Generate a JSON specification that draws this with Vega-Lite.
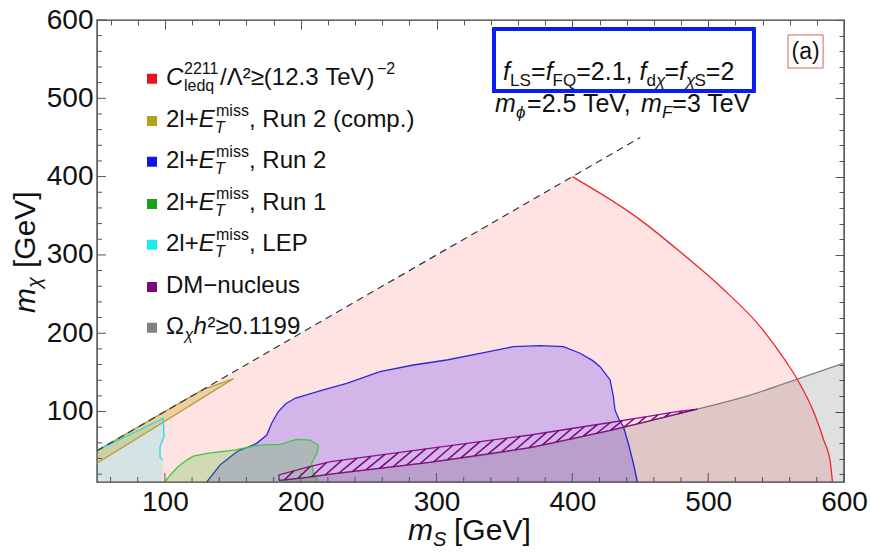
{
  "$schema": "https://vega.github.io/schema/vega-lite/v6.json",
  "width": 747,
  "height": 462,
  "autosize": {"type": "none"},
  "padding": {"left": 97, "top": 20, "right": 26, "bottom": 74},
  "background": "white",
  "config": {
    "font": "Liberation Sans",
    "view": {"stroke": "#3a3a3a", "strokeWidth": 1.4},
    "axis": {"grid": false, "domain": false, "labelFont": "Liberation Sans", "labelFontSize": 28, "labelColor": "#111", "tickColor": "#555", "tickWidth": 1, "labelOverlap": false, "labelFlush": false, "zindex": 1},
    "text": {"font": "Liberation Sans", "color": "#111", "baseline": "alphabetic"}
  },
  "datasets": {
    "shapes": [
      {"g":"C","i":0,"x":50,"y":10},{"g":"C","i":1,"x":50,"y":50},{"g":"C","i":2,"x":400,"y":400},{"g":"C","i":3,"x":449,"y":346},{"g":"C","i":4,"x":480,"y":303},{"g":"C","i":5,"x":510,"y":258},{"g":"C","i":6,"x":540,"y":205},{"g":"C","i":7,"x":558,"y":162},{"g":"C","i":8,"x":566,"y":140},{"g":"C","i":9,"x":578,"y":98},{"g":"C","i":10,"x":585,"y":64},{"g":"C","i":11,"x":590,"y":34},{"g":"C","i":12,"x":591.5,"y":10},
      {"g":"L","i":0,"x":50,"y":10},{"g":"L","i":1,"x":50,"y":50},{"g":"L","i":2,"x":98.8,"y":91.4},{"g":"L","i":3,"x":99.3,"y":68},{"g":"L","i":4,"x":96.4,"y":55},{"g":"L","i":5,"x":96.4,"y":42},{"g":"L","i":6,"x":98.4,"y":38},{"g":"L","i":7,"x":98.5,"y":10},
      {"g":"O","i":0,"x":50,"y":50},{"g":"O","i":1,"x":128,"y":128},{"g":"O","i":2,"x":150.5,"y":142},{"g":"O","i":3,"x":50,"y":34},
      {"g":"G","i":0,"x":100,"y":10},{"g":"G","i":1,"x":104,"y":19},{"g":"G","i":2,"x":110,"y":30},{"g":"G","i":3,"x":116,"y":38},{"g":"G","i":4,"x":121,"y":43},{"g":"G","i":5,"x":131,"y":46.5},{"g":"G","i":6,"x":152,"y":51},{"g":"G","i":7,"x":163,"y":55},{"g":"G","i":8,"x":170,"y":57},{"g":"G","i":9,"x":185,"y":58},{"g":"G","i":10,"x":197,"y":64.5},{"g":"G","i":11,"x":207,"y":63.6},{"g":"G","i":12,"x":213,"y":57},{"g":"G","i":13,"x":212,"y":47},{"g":"G","i":14,"x":208,"y":34},{"g":"G","i":15,"x":209.3,"y":21},{"g":"G","i":16,"x":212,"y":12.6},{"g":"G","i":17,"x":213,"y":10},
      {"g":"B","i":0,"x":130.8,"y":10},{"g":"B","i":1,"x":140.6,"y":31.7},{"g":"B","i":2,"x":152.9,"y":48.7},{"g":"B","i":3,"x":167.6,"y":59.4},{"g":"B","i":4,"x":175,"y":70},{"g":"B","i":5,"x":178.6,"y":85},{"g":"B","i":6,"x":183.5,"y":100},{"g":"B","i":7,"x":189,"y":110},{"g":"B","i":8,"x":195.8,"y":116.9},{"g":"B","i":9,"x":216.6,"y":127.5},{"g":"B","i":10,"x":233.9,"y":136},{"g":"B","i":11,"x":258.4,"y":150.9},{"g":"B","i":12,"x":282.9,"y":159.4},{"g":"B","i":13,"x":307.5,"y":165.8},{"g":"B","i":14,"x":332,"y":174.4},{"g":"B","i":15,"x":356.6,"y":182.8},{"g":"B","i":16,"x":376.2,"y":184.1},{"g":"B","i":17,"x":393.4,"y":182.8},{"g":"B","i":18,"x":405.7,"y":174.4},{"g":"B","i":19,"x":415,"y":165},{"g":"B","i":20,"x":420.4,"y":157.3},{"g":"B","i":21,"x":427.8,"y":140.3},{"g":"B","i":22,"x":430.2,"y":119},{"g":"B","i":23,"x":431.4,"y":102},{"g":"B","i":24,"x":433.9,"y":91.4},{"g":"B","i":25,"x":437.6,"y":80.6},{"g":"B","i":26,"x":441.2,"y":59.4},{"g":"B","i":27,"x":444.9,"y":33.9},{"g":"B","i":28,"x":447.9,"y":10},
      {"g":"W","i":0,"x":184,"y":11},{"g":"W","i":1,"x":205,"y":16},{"g":"W","i":2,"x":222,"y":20},{"g":"W","i":3,"x":295,"y":35},{"g":"W","i":4,"x":369,"y":54},{"g":"W","i":5,"x":428,"y":76},{"g":"W","i":6,"x":457,"y":88.2},{"g":"W","i":7,"x":492,"y":103},{"g":"W","i":8,"x":531,"y":121},{"g":"W","i":9,"x":565,"y":141},{"g":"W","i":10,"x":600,"y":162},{"g":"W","i":11,"x":600,"y":10},{"g":"W","i":12,"x":184,"y":10},
      {"g":"D","i":0,"x":184,"y":12},{"g":"D","i":1,"x":184,"y":19},{"g":"D","i":2,"x":205,"y":29},{"g":"D","i":3,"x":222,"y":36},{"g":"D","i":4,"x":295,"y":53},{"g":"D","i":5,"x":369,"y":70},{"g":"D","i":6,"x":428,"y":86},{"g":"D","i":7,"x":457,"y":94},{"g":"D","i":8,"x":477,"y":100},{"g":"D","i":9,"x":492,"y":103},{"g":"D","i":10,"x":477,"y":96.7},{"g":"D","i":11,"x":457,"y":88.2},{"g":"D","i":12,"x":428,"y":76},{"g":"D","i":13,"x":369,"y":54},{"g":"D","i":14,"x":295,"y":35},{"g":"D","i":15,"x":222,"y":20},{"g":"D","i":16,"x":205,"y":16},{"g":"D","i":17,"x":184,"y":12},
      {"g":"diag","i":0,"x":50,"y":50},{"g":"diag","i":1,"x":450,"y":450}
    ],
    "hatch": [
      {"x":188,"y":12.8,"x2":195,"y2":24.2},{"x":198,"y":14.7,"x2":207,"y2":29.8},{"x":208,"y":16.7,"x2":219,"y2":34.8},{"x":218,"y":19,"x2":230.5,"y2":37.9},{"x":228,"y":21.2,"x2":241.5,"y2":40.4},{"x":238,"y":23.3,"x2":252,"y2":43},{"x":248,"y":25.4,"x2":262,"y2":45.3},{"x":258,"y":27.4,"x2":272,"y2":47.6},{"x":268,"y":29.5,"x2":282,"y2":50},{"x":278,"y":31.5,"x2":292,"y2":52.3},{"x":288,"y":33.6,"x2":302,"y2":54.6},{"x":298,"y":35.8,"x2":312,"y2":56.9},{"x":308,"y":38.3,"x2":322,"y2":59.2},{"x":318,"y":40.9,"x2":332,"y2":61.5},{"x":328,"y":43.5,"x2":342,"y2":63.8},{"x":338,"y":46,"x2":352,"y2":66.1},{"x":348,"y":48.6,"x2":361.5,"y2":68.3},{"x":358,"y":51.2,"x2":371,"y2":70.5},{"x":368,"y":53.7,"x2":381,"y2":73.3},{"x":378,"y":57.4,"x2":390,"y2":75.7},{"x":388,"y":61.1,"x2":399.5,"y2":78.2},{"x":398,"y":64.8,"x2":409,"y2":80.9},{"x":408,"y":68.5,"x2":418.5,"y2":83.3},{"x":418,"y":72.3,"x2":428,"y2":86},{"x":428,"y":76,"x2":437,"y2":88.5},{"x":438,"y":80.2,"x2":445.5,"y2":90.8},{"x":448,"y":84.4,"x2":454,"y2":93.2},{"x":458,"y":88.6,"x2":463,"y2":95.8},{"x":468,"y":92.8,"x2":472,"y2":98.5},{"x":478,"y":97.1,"x2":481,"y2":100.8},{"x":487,"y":100.9,"x2":489,"y2":102.4}
    ],
    "xticks": [{"v":60},{"v":80},{"v":100},{"v":120},{"v":140},{"v":160},{"v":180},{"v":200},{"v":220},{"v":240},{"v":260},{"v":280},{"v":300},{"v":320},{"v":340},{"v":360},{"v":380},{"v":400},{"v":420},{"v":440},{"v":460},{"v":480},{"v":500},{"v":520},{"v":540},{"v":560},{"v":580},{"v":600}],
    "yticks": [{"v":20},{"v":40},{"v":60},{"v":80},{"v":100},{"v":120},{"v":140},{"v":160},{"v":180},{"v":200},{"v":220},{"v":240},{"v":260},{"v":280},{"v":300},{"v":320},{"v":340},{"v":360},{"v":380},{"v":400},{"v":420},{"v":440},{"v":460},{"v":480},{"v":500},{"v":520},{"v":540},{"v":560},{"v":580},{"v":600}],
    "legend": [
      {"k":"C","y":525},{"k":"R2c","y":471,"s":", Run 2 (comp.)"},{"k":"R2","y":419,"s":", Run 2"},{"k":"R1","y":365,"s":", Run 1"},{"k":"LEP","y":313,"s":", LEP"},{"k":"DM","y":259},{"k":"Om","y":207}
    ]
  },
  "layer": [
    {"data": {"name": "shapes"}, "transform": [{"filter": "datum.g === 'C'"}],
     "mark": {"type": "line", "fill": "#ff0000", "fillOpacity": 0.11, "strokeOpacity": 0},
     "encoding": {
       "x": {"field": "x", "type": "quantitative", "scale": {"domain": [50, 600], "nice": false, "zero": false}, "axis": null},
       "y": {"field": "y", "type": "quantitative", "scale": {"domain": [10, 600], "nice": false, "zero": false}, "axis": null},
       "order": {"field": "i", "type": "quantitative"}}},
    {"data": {"values": [{"x": 100, "y": 100}]},
     "mark": {"type": "point", "opacity": 0},
     "encoding": {
       "x": {"field": "x", "type": "quantitative",
             "axis": {"orient": "top", "title": null, "labels": false, "values": [60,80,100,120,140,160,180,200,220,240,260,280,300,320,340,360,380,400,420,440,460,480,500,520,540,560,580,600],
                      "tickSize": {"condition": {"test": "datum.value % 100 === 0", "value": -9}, "value": -5}}},
       "y": {"field": "y", "type": "quantitative",
             "axis": {"orient": "right", "title": null, "labels": false, "values": [20,40,60,80,100,120,140,160,180,200,220,240,260,280,300,320,340,360,380,400,420,440,460,480,500,520,540,560,580,600],
                      "tickSize": {"condition": {"test": "datum.value % 100 === 0", "value": -9}, "value": -5}}}}},
    {"data": {"values": [{"x": 100, "y": 100}]},
     "mark": {"type": "point", "opacity": 0},
     "encoding": {
       "x": {"field": "x", "type": "quantitative",
             "axis": {"orient": "bottom", "title": null, "ticks": false, "tickSize": 0, "labelPadding": 6, "values": [100,200,300,400,500,600]}},
       "y": {"field": "y", "type": "quantitative",
             "axis": {"orient": "left", "title": null, "ticks": false, "tickSize": 0, "labelPadding": 4, "values": [100,200,300,400,500,600]}}}},
    {"data": {"name": "shapes"}, "transform": [{"filter": "datum.g === 'L'"}],
     "mark": {"type": "line", "fill": "#00e8f0", "fillOpacity": 0.16, "strokeOpacity": 0},
     "encoding": {"x": {"field": "x", "type": "quantitative", "axis": null}, "y": {"field": "y", "type": "quantitative", "axis": null}, "order": {"field": "i", "type": "quantitative"}}},
    {"data": {"name": "shapes"}, "transform": [{"filter": "datum.g === 'B'"}],
     "mark": {"type": "line", "fill": "#3a10ff", "fillOpacity": 0.22, "stroke": "#2a2ad8", "strokeWidth": 1.3},
     "encoding": {"x": {"field": "x", "type": "quantitative", "axis": null}, "y": {"field": "y", "type": "quantitative", "axis": null}, "order": {"field": "i", "type": "quantitative"}}},
    {"data": {"name": "shapes"}, "transform": [{"filter": "datum.g === 'G'"}],
     "mark": {"type": "line", "fill": "#40c020", "fillOpacity": 0.24, "stroke": "#3cc83c", "strokeWidth": 1.3},
     "encoding": {"x": {"field": "x", "type": "quantitative", "axis": null}, "y": {"field": "y", "type": "quantitative", "axis": null}, "order": {"field": "i", "type": "quantitative"}}},
    {"data": {"name": "shapes"}, "transform": [{"filter": "datum.g === 'O'"}],
     "mark": {"type": "line", "fill": "#c8a010", "fillOpacity": 0.3, "stroke": "#b0a040", "strokeWidth": 1.3},
     "encoding": {"x": {"field": "x", "type": "quantitative", "axis": null}, "y": {"field": "y", "type": "quantitative", "axis": null}, "order": {"field": "i", "type": "quantitative"}}},
    {"data": {"name": "shapes"}, "transform": [{"filter": "datum.g === 'L' && datum.i >= 1 && datum.i <= 6"}],
     "mark": {"type": "line", "stroke": "#22dede", "strokeWidth": 1.3},
     "encoding": {"x": {"field": "x", "type": "quantitative", "axis": null}, "y": {"field": "y", "type": "quantitative", "axis": null}, "order": {"field": "i", "type": "quantitative"}}},
    {"data": {"name": "shapes"}, "transform": [{"filter": "datum.g === 'W'"}],
     "mark": {"type": "line", "fill": "#000000", "fillOpacity": 0.12, "strokeOpacity": 0},
     "encoding": {"x": {"field": "x", "type": "quantitative", "axis": null}, "y": {"field": "y", "type": "quantitative", "axis": null}, "order": {"field": "i", "type": "quantitative"}}},
    {"data": {"name": "shapes"}, "transform": [{"filter": "datum.g === 'W' && datum.i <= 10"}],
     "mark": {"type": "line", "stroke": "#808080", "strokeWidth": 1.3, "interpolate": "monotone"},
     "encoding": {"x": {"field": "x", "type": "quantitative", "axis": null}, "y": {"field": "y", "type": "quantitative", "axis": null}, "order": {"field": "i", "type": "quantitative"}}},
    {"data": {"name": "hatch"},
     "mark": {"type": "rule", "stroke": "#800080", "strokeWidth": 1.5},
     "encoding": {"x": {"field": "x", "type": "quantitative", "axis": null}, "y": {"field": "y", "type": "quantitative", "axis": null}, "x2": {"field": "x2"}, "y2": {"field": "y2"}}},
    {"data": {"name": "shapes"}, "transform": [{"filter": "datum.g === 'D'"}],
     "mark": {"type": "line", "stroke": "#800080", "strokeWidth": 1.3, "strokeOpacity": 0.9},
     "encoding": {"x": {"field": "x", "type": "quantitative", "axis": null}, "y": {"field": "y", "type": "quantitative", "axis": null}, "order": {"field": "i", "type": "quantitative"}}},
    {"data": {"name": "shapes"}, "transform": [{"filter": "datum.g === 'C' && datum.i >= 2"}],
     "mark": {"type": "line", "stroke": "#e8282a", "strokeWidth": 1.3, "interpolate": "monotone"},
     "encoding": {"x": {"field": "x", "type": "quantitative", "axis": null}, "y": {"field": "y", "type": "quantitative", "axis": null}, "order": {"field": "i", "type": "quantitative"}}},
    {"data": {"name": "shapes"}, "transform": [{"filter": "datum.g === 'diag'"}],
     "mark": {"type": "line", "stroke": "#333333", "strokeWidth": 1.2, "strokeDash": [7, 5]},
     "encoding": {"x": {"field": "x", "type": "quantitative", "axis": null}, "y": {"field": "y", "type": "quantitative", "axis": null}, "order": {"field": "i", "type": "quantitative"}}},

    {"data": {"name": "xticks"}, "transform": [{"filter": "datum.v % 100 === 0"}],
     "mark": {"type": "rule", "stroke": "#555555", "strokeWidth": 1},
     "encoding": {"x": {"field": "v", "type": "quantitative", "axis": null}, "y": {"datum": 10, "axis": null}, "y2": {"datum": 21.5}}},
    {"data": {"name": "xticks"}, "transform": [{"filter": "datum.v % 100 !== 0"}],
     "mark": {"type": "rule", "stroke": "#555555", "strokeWidth": 1},
     "encoding": {"x": {"field": "v", "type": "quantitative", "axis": null}, "y": {"datum": 10, "axis": null}, "y2": {"datum": 16.4}}},
    {"data": {"name": "yticks"}, "transform": [{"filter": "datum.v % 100 === 0"}],
     "mark": {"type": "rule", "stroke": "#555555", "strokeWidth": 1},
     "encoding": {"y": {"field": "v", "type": "quantitative", "axis": null}, "x": {"datum": 50, "axis": null}, "x2": {"datum": 56.6}}},
    {"data": {"name": "yticks"}, "transform": [{"filter": "datum.v % 100 !== 0"}],
     "mark": {"type": "rule", "stroke": "#555555", "strokeWidth": 1},
     "encoding": {"y": {"field": "v", "type": "quantitative", "axis": null}, "x": {"datum": 50, "axis": null}, "x2": {"datum": 53.7}}},

    {"data": {"name": "legend"},
     "mark": {"type": "point", "shape": "square", "filled": true, "size": 100, "opacity": 1},
     "encoding": {"x": {"datum": 90.5, "axis": null}, "y": {"field": "y", "type": "quantitative", "axis": null},
                  "color": {"field": "k", "type": "nominal", "legend": null,
                            "scale": {"domain": ["C","R2c","R2","R1","LEP","DM","Om"], "range": ["#e8141c","#b5a318","#1414e6","#1a9e1a","#18ecec","#7a0a7a","#808080"]}}}},
    {"data": {"name": "legend"}, "transform": [{"filter": "datum.k === 'C'"}],
     "mark": {"type": "text", "text": "C", "fontStyle": "italic", "fontSize": 24, "align": "left", "dy": 6},
     "encoding": {"x": {"datum": 100.8, "axis": null}, "y": {"field": "y", "type": "quantitative", "axis": null}}},
    {"data": {"name": "legend"}, "transform": [{"filter": "datum.k === 'C'"}],
     "mark": {"type": "text", "text": "2211", "fontSize": 16, "align": "left", "dx": 18, "dy": -5},
     "encoding": {"x": {"datum": 100.8, "axis": null}, "y": {"field": "y", "type": "quantitative", "axis": null}}},
    {"data": {"name": "legend"}, "transform": [{"filter": "datum.k === 'C'"}],
     "mark": {"type": "text", "text": "ledq", "fontSize": 16, "align": "left", "dx": 18, "dy": 12},
     "encoding": {"x": {"datum": 100.8, "axis": null}, "y": {"field": "y", "type": "quantitative", "axis": null}}},
    {"data": {"name": "legend"}, "transform": [{"filter": "datum.k === 'C'"}],
     "mark": {"type": "text", "text": "/Λ²≥(12.3 TeV)", "fontSize": 24, "align": "left", "dx": 54, "dy": 6},
     "encoding": {"x": {"datum": 100.8, "axis": null}, "y": {"field": "y", "type": "quantitative", "axis": null}}},
    {"data": {"name": "legend"}, "transform": [{"filter": "datum.k === 'C'"}],
     "mark": {"type": "text", "text": "−2", "fontSize": 16, "align": "left", "dx": 211, "dy": -5},
     "encoding": {"x": {"datum": 100.8, "axis": null}, "y": {"field": "y", "type": "quantitative", "axis": null}}},
    {"data": {"name": "legend"}, "transform": [{"filter": "datum.s != null"}],
     "mark": {"type": "text", "text": "2l+", "fontSize": 24, "align": "left", "dy": 6},
     "encoding": {"x": {"datum": 100.8, "axis": null}, "y": {"field": "y", "type": "quantitative", "axis": null}}},
    {"data": {"name": "legend"}, "transform": [{"filter": "datum.s != null"}],
     "mark": {"type": "text", "text": "E", "fontStyle": "italic", "fontSize": 24, "align": "left", "dx": 32.7, "dy": 6},
     "encoding": {"x": {"datum": 100.8, "axis": null}, "y": {"field": "y", "type": "quantitative", "axis": null}}},
    {"data": {"name": "legend"}, "transform": [{"filter": "datum.s != null"}],
     "mark": {"type": "text", "text": "miss", "fontSize": 16, "align": "left", "dx": 50, "dy": -5},
     "encoding": {"x": {"datum": 100.8, "axis": null}, "y": {"field": "y", "type": "quantitative", "axis": null}}},
    {"data": {"name": "legend"}, "transform": [{"filter": "datum.s != null"}],
     "mark": {"type": "text", "text": "T", "fontStyle": "italic", "fontSize": 16, "align": "left", "dx": 49, "dy": 12},
     "encoding": {"x": {"datum": 100.8, "axis": null}, "y": {"field": "y", "type": "quantitative", "axis": null}}},
    {"data": {"name": "legend"}, "transform": [{"filter": "datum.s != null"}],
     "mark": {"type": "text", "fontSize": 24, "align": "left", "dx": 83, "dy": 6},
     "encoding": {"x": {"datum": 100.8, "axis": null}, "y": {"field": "y", "type": "quantitative", "axis": null}, "text": {"field": "s"}}},
    {"data": {"name": "legend"}, "transform": [{"filter": "datum.k === 'DM'"}],
     "mark": {"type": "text", "text": "DM−nucleus", "fontSize": 24, "align": "left", "dy": 6},
     "encoding": {"x": {"datum": 100.8, "axis": null}, "y": {"field": "y", "type": "quantitative", "axis": null}}},
    {"data": {"name": "legend"}, "transform": [{"filter": "datum.k === 'Om'"}],
     "mark": {"type": "text", "text": "Ω", "fontSize": 24, "align": "left", "dy": 6},
     "encoding": {"x": {"datum": 100.8, "axis": null}, "y": {"field": "y", "type": "quantitative", "axis": null}}},
    {"data": {"name": "legend"}, "transform": [{"filter": "datum.k === 'Om'"}],
     "mark": {"type": "text", "text": "χ", "fontStyle": "italic", "fontSize": 16, "align": "left", "dx": 18.4, "dy": 12},
     "encoding": {"x": {"datum": 100.8, "axis": null}, "y": {"field": "y", "type": "quantitative", "axis": null}}},
    {"data": {"name": "legend"}, "transform": [{"filter": "datum.k === 'Om'"}],
     "mark": {"type": "text", "text": "h", "fontStyle": "italic", "fontSize": 24, "align": "left", "dx": 27.5, "dy": 6},
     "encoding": {"x": {"datum": 100.8, "axis": null}, "y": {"field": "y", "type": "quantitative", "axis": null}}},
    {"data": {"name": "legend"}, "transform": [{"filter": "datum.k === 'Om'"}],
     "mark": {"type": "text", "text": "²≥0.1199", "fontSize": 24, "align": "left", "dx": 41.5, "dy": 6},
     "encoding": {"x": {"datum": 100.8, "axis": null}, "y": {"field": "y", "type": "quantitative", "axis": null}}},

    {"data": {"values": [{}]},
     "mark": {"type": "rect", "fill": "transparent", "stroke": "#0a1ef0", "strokeWidth": 4},
     "encoding": {"x": {"datum": 342.3, "axis": null}, "x2": {"datum": 533.7}, "y": {"datum": 588.5, "axis": null}, "y2": {"datum": 509.4}}},
    {"data": {"values": [{}]},
     "mark": {"type": "rect", "fill": "transparent", "stroke": "#e06060", "strokeWidth": 1},
     "encoding": {"x": {"datum": 558.8, "axis": null}, "x2": {"datum": 584.6}, "y": {"datum": 580.9, "axis": null}, "y2": {"datum": 538.7}}},
    {"data": {"values": [{}]},
     "mark": {"type": "text", "text": "(a)", "fontSize": 23, "align": "center", "baseline": "middle"},
     "encoding": {"x": {"datum": 571.7, "axis": null}, "y": {"datum": 559.2, "axis": null}}},

    {"data": {"values": [{}]}, "mark": {"type": "text", "text": "f", "fontStyle": "italic", "fontSize": 25, "align": "left"},
     "encoding": {"x": {"datum": 349, "axis": null}, "y": {"datum": 523.4, "axis": null}}},
    {"data": {"values": [{}]}, "mark": {"type": "text", "text": "LS", "fontSize": 17, "align": "left", "dx": 7, "dy": 6},
     "encoding": {"x": {"datum": 349, "axis": null}, "y": {"datum": 523.4, "axis": null}}},
    {"data": {"values": [{}]}, "mark": {"type": "text", "text": "=", "fontSize": 25, "align": "left", "dx": 28},
     "encoding": {"x": {"datum": 349, "axis": null}, "y": {"datum": 523.4, "axis": null}}},
    {"data": {"values": [{}]}, "mark": {"type": "text", "text": "f", "fontStyle": "italic", "fontSize": 25, "align": "left", "dx": 42.6},
     "encoding": {"x": {"datum": 349, "axis": null}, "y": {"datum": 523.4, "axis": null}}},
    {"data": {"values": [{}]}, "mark": {"type": "text", "text": "FQ", "fontSize": 17, "align": "left", "dx": 49.5, "dy": 6},
     "encoding": {"x": {"datum": 349, "axis": null}, "y": {"datum": 523.4, "axis": null}}},
    {"data": {"values": [{}]}, "mark": {"type": "text", "text": "=2.1,", "fontSize": 25, "align": "left", "dx": 73.1},
     "encoding": {"x": {"datum": 349, "axis": null}, "y": {"datum": 523.4, "axis": null}}},
    {"data": {"values": [{}]}, "mark": {"type": "text", "text": "f", "fontStyle": "italic", "fontSize": 25, "align": "left", "dx": 136.4},
     "encoding": {"x": {"datum": 349, "axis": null}, "y": {"datum": 523.4, "axis": null}}},
    {"data": {"values": [{}]}, "mark": {"type": "text", "text": "d", "fontSize": 17, "align": "left", "dx": 143.4, "dy": 6},
     "encoding": {"x": {"datum": 349, "axis": null}, "y": {"datum": 523.4, "axis": null}}},
    {"data": {"values": [{}]}, "mark": {"type": "text", "text": "χ", "fontStyle": "italic", "fontSize": 17, "align": "left", "dx": 152.8, "dy": 6},
     "encoding": {"x": {"datum": 349, "axis": null}, "y": {"datum": 523.4, "axis": null}}},
    {"data": {"values": [{}]}, "mark": {"type": "text", "text": "=", "fontSize": 25, "align": "left", "dx": 161.3},
     "encoding": {"x": {"datum": 349, "axis": null}, "y": {"datum": 523.4, "axis": null}}},
    {"data": {"values": [{}]}, "mark": {"type": "text", "text": "f", "fontStyle": "italic", "fontSize": 25, "align": "left", "dx": 175.9},
     "encoding": {"x": {"datum": 349, "axis": null}, "y": {"datum": 523.4, "axis": null}}},
    {"data": {"values": [{}]}, "mark": {"type": "text", "text": "χ", "fontStyle": "italic", "fontSize": 17, "align": "left", "dx": 182.9, "dy": 6},
     "encoding": {"x": {"datum": 349, "axis": null}, "y": {"datum": 523.4, "axis": null}}},
    {"data": {"values": [{}]}, "mark": {"type": "text", "text": "S", "fontSize": 17, "align": "left", "dx": 191.4, "dy": 6},
     "encoding": {"x": {"datum": 349, "axis": null}, "y": {"datum": 523.4, "axis": null}}},
    {"data": {"values": [{}]}, "mark": {"type": "text", "text": "=2", "fontSize": 25, "align": "left", "dx": 202.7},
     "encoding": {"x": {"datum": 349, "axis": null}, "y": {"datum": 523.4, "axis": null}}},

    {"data": {"values": [{}]}, "mark": {"type": "text", "text": "m", "fontStyle": "italic", "fontSize": 25, "align": "left"},
     "encoding": {"x": {"datum": 343.1, "axis": null}, "y": {"datum": 482.9, "axis": null}}},
    {"data": {"values": [{}]}, "mark": {"type": "text", "text": "ϕ", "fontStyle": "italic", "fontSize": 17, "align": "left", "dx": 20.8, "dy": 6},
     "encoding": {"x": {"datum": 343.1, "axis": null}, "y": {"datum": 482.9, "axis": null}}},
    {"data": {"values": [{}]}, "mark": {"type": "text", "text": "=2.5 TeV,", "fontSize": 25, "align": "left", "dx": 32},
     "encoding": {"x": {"datum": 343.1, "axis": null}, "y": {"datum": 482.9, "axis": null}}},
    {"data": {"values": [{}]}, "mark": {"type": "text", "text": "m", "fontStyle": "italic", "fontSize": 25, "align": "left", "dx": 146},
     "encoding": {"x": {"datum": 343.1, "axis": null}, "y": {"datum": 482.9, "axis": null}}},
    {"data": {"values": [{}]}, "mark": {"type": "text", "text": "F", "fontStyle": "italic", "fontSize": 17, "align": "left", "dx": 166.8, "dy": 6},
     "encoding": {"x": {"datum": 343.1, "axis": null}, "y": {"datum": 482.9, "axis": null}}},
    {"data": {"values": [{}]}, "mark": {"type": "text", "text": "=3 TeV", "fontSize": 25, "align": "left", "dx": 177.2},
     "encoding": {"x": {"datum": 343.1, "axis": null}, "y": {"datum": 482.9, "axis": null}}},

    {"data": {"values": [{}]}, "mark": {"type": "text", "text": "m", "fontStyle": "italic", "fontSize": 30, "align": "left"},
     "encoding": {"x": {"datum": 279, "axis": null}, "y": {"datum": -64.1, "axis": null}}},
    {"data": {"values": [{}]}, "mark": {"type": "text", "text": "S", "fontStyle": "italic", "fontSize": 20, "align": "left", "dx": 25, "dy": 6},
     "encoding": {"x": {"datum": 279, "axis": null}, "y": {"datum": -64.1, "axis": null}}},
    {"data": {"values": [{}]}, "mark": {"type": "text", "text": "[GeV]", "fontSize": 30, "align": "left", "dx": 46},
     "encoding": {"x": {"datum": 279, "axis": null}, "y": {"datum": -64.1, "axis": null}}},

    {"data": {"values": [{}]}, "mark": {"type": "text", "text": "m", "fontStyle": "italic", "fontSize": 30, "align": "left", "angle": 270},
     "encoding": {"x": {"datum": 4.4, "axis": null}, "y": {"datum": 225.8, "axis": null}}},
    {"data": {"values": [{}]}, "mark": {"type": "text", "text": "χ", "fontStyle": "italic", "fontSize": 20, "align": "left", "angle": 270, "dx": 25, "dy": 6},
     "encoding": {"x": {"datum": 4.4, "axis": null}, "y": {"datum": 225.8, "axis": null}}},
    {"data": {"values": [{}]}, "mark": {"type": "text", "text": "[GeV]", "fontSize": 30, "align": "left", "angle": 270, "dx": 45},
     "encoding": {"x": {"datum": 4.4, "axis": null}, "y": {"datum": 225.8, "axis": null}}}
  ],
  "resolve": {"axis": {"x": "independent", "y": "independent"}}
}
